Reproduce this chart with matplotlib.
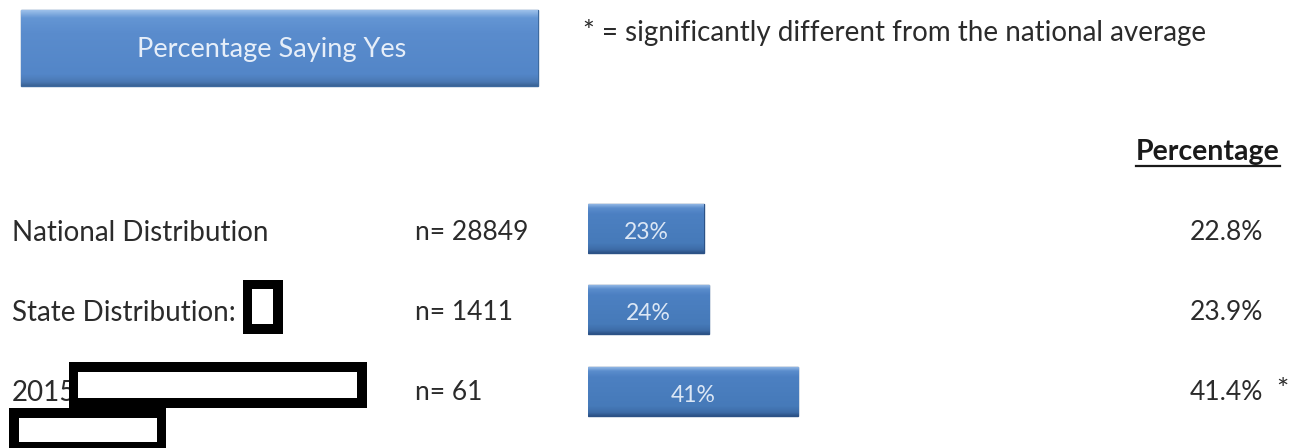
import numpy as np
import matplotlib
matplotlib.use("Agg")
import matplotlib.pyplot as plt
from matplotlib.patches import Rectangle
from matplotlib.colors import LinearSegmentedColormap

plt.rcParams['font.family'] = ['Lato', 'DejaVu Sans']

# data
groups = ['National Distribution', 'State Distribution:', '2015']
n_sizes = [28849, 1411, 61]
pct = [22.8, 23.9, 41.4]
significant = [False, False, True]
title_text = 'Percentage Saying Yes'
note_text = '* = significantly different from the national average'

W, H = 1301, 448
fig = plt.figure(figsize=(W / 100, H / 100), dpi=100)

# pixel-space overlay for text and decorations
bg = fig.add_axes([0, 0, 1, 1])
bg.set_xlim(0, W)
bg.set_ylim(H, 0)
bg.axis('off')

txt = '#2b2b2b'
bevel = LinearSegmentedColormap.from_list(
    'bevel', [(0, '#8fb5e4'), (0.08, '#5a8ccc'), (0.2, '#4c80c2'),
              (0.8, '#467ab9'), (0.93, '#3d6ca7'), (1, '#2c5286')])
hdr_bevel = LinearSegmentedColormap.from_list(
    'hdr', [(0, '#9cc0ea'), (0.1, '#6496d4'), (0.3, '#5a8ccd'),
            (0.85, '#5386c8'), (0.95, '#4a78b3'), (1, '#3a6396')])
grad = np.linspace(0, 1, 200).reshape(-1, 1)

# header box
hb = Rectangle((21, 10), 517, 76, facecolor='#5589ca', edgecolor='#3d6a9f', lw=1.0)
bg.add_patch(hb)
im = bg.imshow(grad, cmap=hdr_bevel, aspect='auto', extent=(21, 538, 86, 10), zorder=1)
im.set_clip_path(hb)
bg.text(272, 50, title_text, ha='center', va='center', fontsize=19.5,
        color='#e6eef9', zorder=3)

bg.text(583, 33, note_text, ha='left', va='center', fontsize=20, color=txt)

hdr = bg.text(1280, 152, 'Percentage', ha='right', va='center', fontsize=20.5,
              fontweight='bold', color='#1a1a1a')
fig.canvas.draw()
bb = hdr.get_window_extent().transformed(bg.transData.inverted())
bg.plot([bb.x0, bb.x1], [166, 166], color='#1a1a1a', lw=1.6)

# row text
for i, (g, n, p, s) in enumerate(zip(groups, n_sizes, pct, significant)):
    y = 233 + 80 * i
    bg.text(12, y, g, ha='left', va='center', fontsize=20, color=txt)
    bg.text(415, y, f'n= {n}', ha='left', va='center', fontsize=19, color=txt)
    bg.text(1263, y, f'{p:.1f}%', ha='right', va='center', fontsize=19, color=txt)
    if s:
        bg.text(1276, y - 2, '*', ha='left', va='center', fontsize=21, color=txt)

# redaction boxes
for x0, y0, x1, y1 in [(243, 280, 283, 334), (69, 362, 367, 408), (9, 408, 166, 452)]:
    bg.add_patch(Rectangle((x0, y0), x1 - x0, y1 - y0, facecolor='black', zorder=4))
for x0, y0, x1, y1 in [(252, 289, 273, 324), (78, 372, 357, 398), (19, 418, 157, 442)]:
    bg.add_patch(Rectangle((x0, y0), x1 - x0, y1 - y0, facecolor='white', zorder=5))

# bar axes: 0-100% spans 508 px starting at x=588
ax = fig.add_axes([588 / W, 1 - 432 / H, 508 / W, 244.5 / H])
ax.axis('off')
ax.patch.set_alpha(0)
bars = ax.barh(range(len(pct)), pct, height=0.6, color='#467ab9',
               edgecolor='#2c5286', linewidth=1.0)
for b, p in zip(bars, pct):
    bx = b.get_bbox()
    gi = ax.imshow(grad, cmap=bevel, aspect='auto', extent=(bx.x0, bx.x1, bx.y1, bx.y0), zorder=2)
    gi.set_clip_path(b)
    ax.text(p / 2, b.get_y() + b.get_height() / 2 + 0.05, f'{p:.0f}%', ha='center',
            va='center', fontsize=16.5, color='#dce7f5', zorder=3)
ax.set_xlim(0, 100)
ax.set_ylim(2.5, -0.5)

fig.savefig('out.png', dpi=100)
